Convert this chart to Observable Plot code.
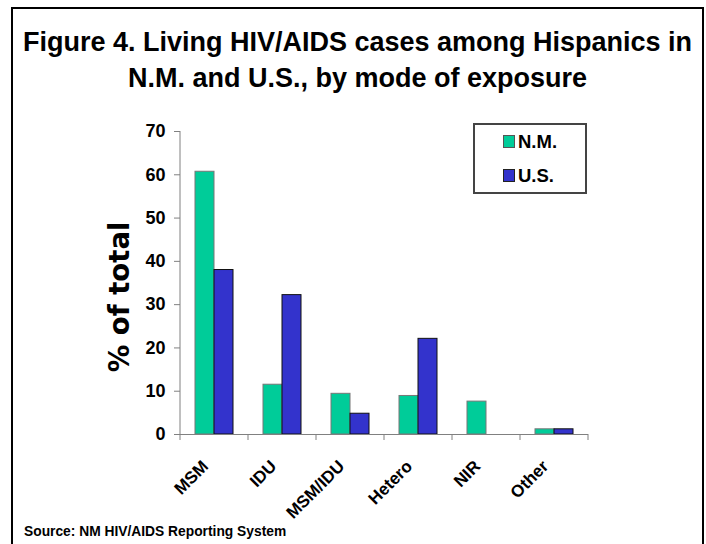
<!DOCTYPE html>
<html><head><meta charset="utf-8">
<script src="https://cdn.jsdelivr.net/npm/d3@7"></script>
<script src="https://cdn.jsdelivr.net/npm/@observablehq/plot@0.6"></script>
<style>
html,body{margin:0;padding:0;background:#fff;}
#page{position:relative;width:706px;height:544px;overflow:hidden;font-family:"Liberation Sans",Arial,sans-serif;color:#000;}
#chart{position:absolute;left:0;top:0;}
#border{position:absolute;left:11px;top:7px;width:693px;height:560px;border:2px solid #000;box-sizing:border-box;}
#title{position:absolute;left:11px;width:693px;top:24px;text-align:center;font-weight:bold;font-size:27px;line-height:36px;}
#ylabel{position:absolute;left:120px;top:297px;transform:translate(-50%,-50%) rotate(-90deg);font-family:"DejaVu Sans",Verdana,sans-serif;font-weight:bold;font-size:27.5px;line-height:1;white-space:nowrap;}
#legend{position:absolute;left:473px;top:123px;width:114px;height:71px;border:2px solid #444;box-sizing:border-box;}
.sw{position:absolute;width:12px;height:13px;box-sizing:border-box;border:1px solid #555;}
.lt{position:absolute;font-weight:bold;font-size:18.5px;line-height:18px;white-space:nowrap;}
#source{position:absolute;left:24px;top:525px;font-weight:bold;font-size:13.8px;line-height:14px;white-space:nowrap;}
</style>
</head><body>
<div id="page">
  <div id="chart"></div>
  <div id="border"></div>
  <div id="title">Figure 4. Living HIV/AIDS cases among Hispanics in<br>N.M. and U.S., by mode of exposure</div>
  <div id="ylabel">% of total</div>
  <div id="legend"></div>
  <div id="source">Source: NM HIV/AIDS Reporting System</div>
</div>
<script>
const categories = ["MSM", "IDU", "MSM/IDU", "Hetero", "NIR", "Other"];
const series = ["N.M.", "U.S."];
const nmValues = [60.7, 11.5, 9.4, 8.9, 7.6, 1.2];
const usValues = [38.0, 32.2, 4.8, 22.1, null, 1.2];
const yTicks = [0, 10, 20, 30, 40, 50, 60, 70];
const seriesColors = ["#00CC99", "#3333CC"];
const seriesStrokes = ["#777777", "#111111"];

const rows = categories.flatMap((c, i) => [
  {cat: c, series: series[0], value: nmValues[i]},
  {cat: c, series: series[1], value: usValues[i]}
]);

const chart = Plot.plot({
  width: 706, height: 544,
  marginLeft: 179, marginRight: 118, marginTop: 131, marginBottom: 110,
  style: {fontFamily: '"Liberation Sans", Arial, sans-serif', fontWeight: "bold", fontSize: "18px", color: "#000", background: "transparent", overflow: "visible"},
  fx: {domain: categories, padding: 0, axis: null, label: null},
  x: {domain: series, paddingInner: 0, paddingOuter: 0.75, axis: null, label: null},
  y: {domain: [0, 70], axis: null},
  marks: [
    Plot.axisY({ticks: yTicks, tickSize: 6, tickPadding: 9, stroke: "#808080", fill: "#000", fontSize: 18, fontWeight: "bold", label: null}),
    ...series.map((s, k) => Plot.barY(rows, {
      filter: d => d.series === s && d.value != null,
      fx: "cat", x: "series", y: "value",
      fill: seriesColors[k], stroke: seriesStrokes[k], strokeWidth: 1
    })),
    Plot.ruleY([0], {stroke: "#808080"}),
    Plot.text(categories, {fx: d => d, text: d => d, frameAnchor: "bottom", rotate: -45, textAnchor: "end", lineAnchor: "middle", dx: -9, dy: 29, fontSize: 17, fontWeight: "bold", fill: "#000"})
  ]
});
document.getElementById("chart").appendChild(chart);

// axis lines and category boundary ticks from the plot's own scales
const fxS = chart.scale("fx"), yS = chart.scale("y");
const bw = fxS.bandwidth, step = fxS.step || bw;
const y0 = yS.apply(0), yTop = yS.apply(70);
const g = d3.select(chart).append("g").attr("stroke", "#808080").attr("stroke-width", 1);
const bounds = categories.map(c => fxS.apply(c) - (step - bw) / 2);
bounds.push(fxS.apply(categories[categories.length - 1]) + bw + (step - bw) / 2);
bounds.forEach(x => g.append("line").attr("x1", x).attr("x2", x).attr("y1", y0).attr("y2", y0 + 6));
g.append("line").attr("x1", bounds[0]).attr("x2", bounds[0]).attr("y1", y0).attr("y2", yTop);

// legend
const page = document.getElementById("page");
series.forEach((s, k) => {
  const sw = document.createElement("div");
  sw.className = "sw";
  sw.style.left = "503px"; sw.style.top = (135 + k * 34) + "px";
  sw.style.background = seriesColors[k];
  sw.style.borderColor = k === 0 ? "#555" : "#222";
  page.appendChild(sw);
  const t = document.createElement("div");
  t.className = "lt";
  t.style.left = "518px"; t.style.top = (133 + k * 34) + "px";
  t.textContent = s;
  page.appendChild(t);
});
</script>
</body></html>
